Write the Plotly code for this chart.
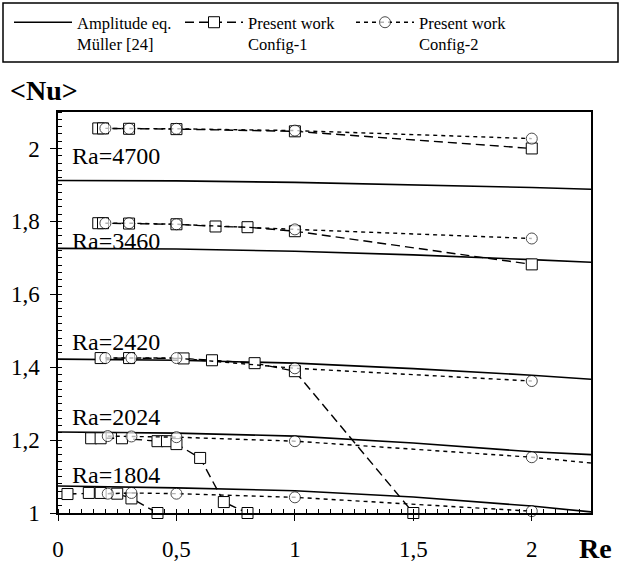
import plotly.graph_objects as go

# --- data ---
amp_x = [0, 0.5, 1.0, 1.5, 2.0, 2.25]
amp_ra4700 = [1.912, 1.911, 1.907, 1.901, 1.893, 1.888]
amp_ra3460 = [1.726, 1.724, 1.718, 1.708, 1.695, 1.688]
amp_ra2420 = [1.422, 1.419, 1.411, 1.396, 1.378, 1.367]
amp_ra2024 = [1.222, 1.219, 1.211, 1.192, 1.168, 1.160]
amp_ra1804 = [1.074, 1.069, 1.061, 1.044, 1.019, 1.003]

c1_ra4700_x = [0.17, 0.19, 0.3, 0.5, 1.0, 2.0]
c1_ra4700_y = [2.055, 2.055, 2.054, 2.053, 2.047, 2.000]
c1_ra3460_x = [0.17, 0.19, 0.3, 0.5, 0.665, 0.8, 1.0, 2.0]
c1_ra3460_y = [1.795, 1.795, 1.794, 1.792, 1.786, 1.784, 1.773, 1.682]
c1_ra2420_x = [0.18, 0.3, 0.53, 0.65, 0.83, 1.0, 1.5]
c1_ra2420_y = [1.425, 1.425, 1.424, 1.419, 1.411, 1.389, 1.0]
c1_ra2024_x = [0.14, 0.18, 0.27, 0.42, 0.46, 0.5, 0.6, 0.7, 0.8]
c1_ra2024_y = [1.205, 1.205, 1.205, 1.197, 1.197, 1.189, 1.151, 1.030, 1.0]
c1_ra1804_x = [0.04, 0.13, 0.18, 0.25, 0.31, 0.42]
c1_ra1804_y = [1.052, 1.055, 1.055, 1.053, 1.040, 1.0]

c2_ra4700_x = [0.2, 0.3, 0.5, 1.0, 2.0]
c2_ra4700_y = [2.055, 2.054, 2.054, 2.049, 2.027]
c2_ra3460_x = [0.2, 0.3, 0.5, 1.0, 2.0]
c2_ra3460_y = [1.795, 1.795, 1.792, 1.778, 1.753]
c2_ra2420_x = [0.2, 0.31, 0.5, 1.0, 2.0]
c2_ra2420_y = [1.425, 1.425, 1.425, 1.397, 1.362]
c2_ra2024_x = [0.21, 0.31, 0.5, 1.0, 2.0, 2.25]
c2_ra2024_y = [1.211, 1.210, 1.208, 1.197, 1.153, 1.137]
c2_ra1804_x = [0.21, 0.31, 0.5, 1.0, 2.0]
c2_ra1804_y = [1.053, 1.055, 1.053, 1.043, 1.005]

ra_labels = ["Ra=4700", "Ra=3460", "Ra=2420", "Ra=2024", "Ra=1804"]
ra_label_y = [1.98, 1.745, 1.468, 1.263, 1.104]

SERIF = "Liberation Serif, Times New Roman, serif"
W, H = 622, 565

fig = go.Figure()

# Amplitude equation (solid)
for i, ys in enumerate([amp_ra4700, amp_ra3460, amp_ra2420, amp_ra2024, amp_ra1804]):
    fig.add_trace(go.Scatter(
        x=amp_x, y=ys, mode="lines",
        line=dict(color="black", width=1.6),
        name="Amplitude eq.<br>Müller [24]",
        legendgroup="amp", showlegend=(i == 0),
    ))

# Present work, config-1 (dashed, squares)
c1 = [(c1_ra4700_x, c1_ra4700_y), (c1_ra3460_x, c1_ra3460_y), (c1_ra2420_x, c1_ra2420_y),
      (c1_ra2024_x, c1_ra2024_y), (c1_ra1804_x, c1_ra1804_y)]
for i, (xs, ys) in enumerate(c1):
    fig.add_trace(go.Scatter(
        x=xs, y=ys, mode="lines+markers",
        line=dict(color="black", width=1.4, dash="9px,5px"),
        marker=dict(symbol="square", size=11, color="white",
                    line=dict(color="black", width=1)),
        name="Present work<br>Config-1",
        legendgroup="c1", showlegend=(i == 0),
        cliponaxis=False,
    ))

# Present work, config-2 (dotted, circles)
c2 = [(c2_ra4700_x, c2_ra4700_y), (c2_ra3460_x, c2_ra3460_y), (c2_ra2420_x, c2_ra2420_y),
      (c2_ra2024_x, c2_ra2024_y), (c2_ra1804_x, c2_ra1804_y)]
for i, (xs, ys) in enumerate(c2):
    sizes = [11] * len(xs)
    if xs[-1] > 2.0:
        sizes[-1] = 0  # line runs on to the frame with no symbol
    fig.add_trace(go.Scatter(
        x=xs, y=ys, mode="lines+markers",
        line=dict(color="black", width=1.4, dash="4px,4px"),
        marker=dict(symbol="circle", size=sizes, color="white",
                    line=dict(color="black", width=1)),
        name="Present work<br>Config-2",
        legendgroup="c2", showlegend=(i == 0),
        cliponaxis=False,
    ))

for lab, yy in zip(ra_labels, ra_label_y):
    fig.add_annotation(x=0.05, y=yy, xref="x", yref="y", text=lab, showarrow=False,
                       xanchor="left", yanchor="middle",
                       font=dict(family=SERIF, size=24, color="black"))

fig.add_annotation(x=(8 - 58) / 533, y=(513 - 90) / 401, xref="paper", yref="paper",
                   text="<b>&lt;Nu&gt;</b>", showarrow=False,
                   xanchor="left", yanchor="middle",
                   font=dict(family=SERIF, size=28, color="black"))
fig.add_annotation(x=1.0, y=0, xref="paper", yref="paper", text="<b>Re</b>",
                   showarrow=False, xanchor="left", yanchor="middle", xshift=-14, yshift=-35,
                   font=dict(family=SERIF, size=28, color="black"))

# frame round the legend
fig.add_shape(type="rect", xref="paper", yref="paper",
              x0=(3 - 58) / 533, x1=(618 - 58) / 533,
              y0=(513 - 62) / 401, y1=(513 - 3) / 401,
              line=dict(color="black", width=1.5))

axis_common = dict(
    showgrid=False, zeroline=False, showline=True, linecolor="black", linewidth=1.5,
    mirror=True, ticks="outside", ticklen=6, tickwidth=1.3, tickcolor="black",
    tickfont=dict(family=SERIF, size=23, color="black"),
)

fig.update_xaxes(
    range=[0, 2.25], tick0=0, dtick=0.5,
    minor=dict(ticks="inside", dtick=0.05, ticklen=4, tickcolor="black", tickwidth=1),
    ticklabelstandoff=9,
    **axis_common,
)
fig.update_yaxes(
    range=[1, 2.1], tick0=1, dtick=0.2,
    minor=dict(ticks="inside", dtick=0.02, ticklen=4, tickcolor="black", tickwidth=1),
    ticklabelstandoff=6,
    **axis_common,
)

fig.update_layout(
    width=W, height=H,
    margin=dict(l=58, r=31, t=112, b=52, autoexpand=False),
    paper_bgcolor="white", plot_bgcolor="white",
    separators=", ",
    showlegend=True,
    legend=dict(
        orientation="h", xref="container", yref="container",
        x=9 / W, y=1 - 5 / H, xanchor="left", yanchor="top",
        borderwidth=0, bgcolor="rgba(0,0,0,0)",
        font=dict(family=SERIF, size=16.5, color="black"),
        entrywidth=98, valign="top", itemwidth=58,
    ),
    font=dict(family=SERIF, color="black"),
)

# the page body has a default 8px margin; drop it so the figure fills the window
fig.write_html("out.html", config={"displayModeBar": False},
               post_script="document.body.style.margin='0';")
